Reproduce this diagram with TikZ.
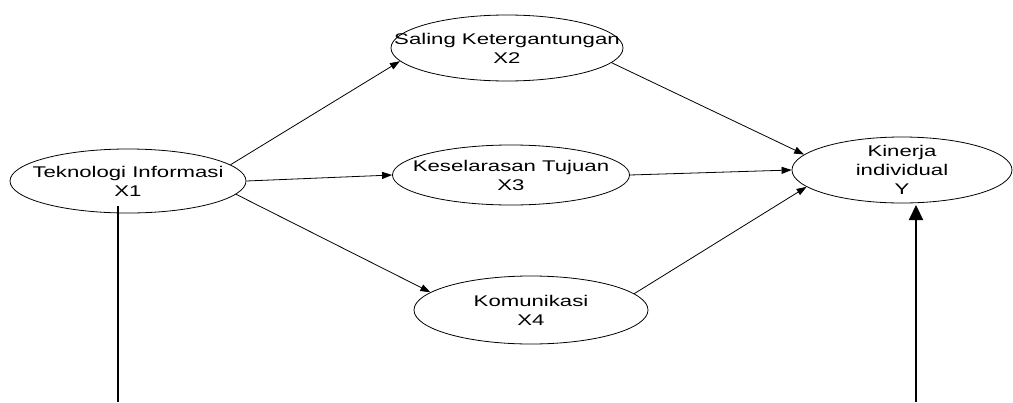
\documentclass[tikz,border=0pt]{standalone}
\usepackage{fontspec}
\setmainfont{Liberation Sans}[FakeStretch=1.43]
\usetikzlibrary{shapes.geometric,arrows.meta}
\begin{document}
\begin{tikzpicture}[x=1pt,y=-1pt,
  ell/.style={draw=black,shape=ellipse,line width=0.8pt,inner sep=0pt,fill=white},
  lbl/.style={align=center,inner sep=0pt,font=\fontsize{15.5}{19}\selectfont},
  arr/.style={draw=black,line width=0.8pt,-{Triangle[length=10pt,width=7pt]}},
  thick line/.style={draw=black,line width=2.2pt},
  big arr/.style={draw=black,line width=2.2pt,-{Triangle[length=15pt,width=14pt]}}]
\path[use as bounding box] (0,0) rectangle (1013,402);

\node[ell,minimum width=236pt,minimum height=64pt,
  label={[lbl]center:{Teknologi Informasi\\X1}}] (X1) at (128,181) {};
\node[ell,minimum width=232pt,minimum height=66pt,
  label={[lbl]center:{Saling Ketergantungan\\X2}}] (X2) at (507,48) {};
\node[ell,minimum width=237pt,minimum height=60pt,
  label={[lbl]center:{Keselarasan Tujuan\\X3}}] (X3) at (511,175) {};
\node[ell,minimum width=234pt,minimum height=68pt,
  label={[lbl]center:{Komunikasi\\X4}}] (X4) at (531,310) {};
\node[ell,minimum width=220pt,minimum height=66pt,
  label={[lbl]center:{Kinerja\\individual\\Y}}] (Y) at (902,170) {};

\draw[arr] (X1.9) -- (X2.187);
\draw[arr] (X1.east) -- (X3.west);
\draw[arr] (X1.-7) -- (X4.170);
\draw[arr] (X2.-8) -- (Y.171);
\draw[arr] (X3.east) -- (Y.west);
\draw[arr] (X4.9) -- (Y.190);

\coordinate (t1) at (118,206);
\coordinate (b1) at (118,402);
\draw[thick line] (t1) -- (b1);

\coordinate (b2) at (916,402);
\coordinate (t2) at (916,205);
\draw[big arr] (b2) -- (t2);
\end{tikzpicture}
\end{document}
